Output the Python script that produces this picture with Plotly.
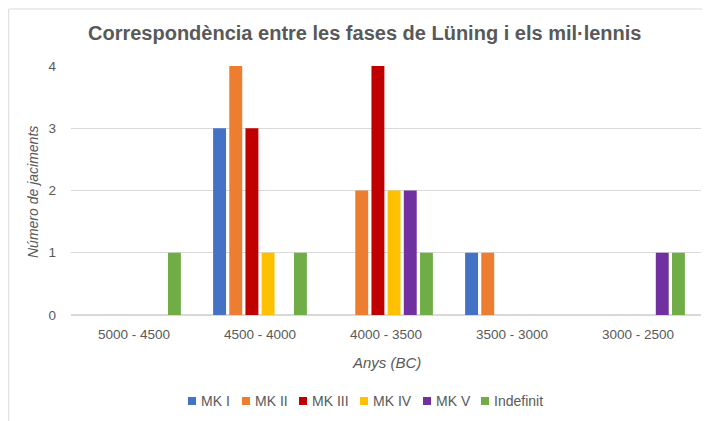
import plotly.graph_objects as go

categories = ["5000 - 4500", "4500 - 4000", "4000 - 3500", "3500 - 3000", "3000 - 2500"]
series_names = ["MK I", "MK II", "MK III", "MK IV", "MK V", "Indefinit"]
mk1 = [0, 3, 0, 1, 0]
mk2 = [0, 4, 2, 1, 0]
mk3 = [0, 3, 4, 0, 0]
mk4 = [0, 1, 2, 0, 0]
mk5 = [0, 0, 2, 0, 1]
indefinit = [1, 1, 1, 0, 1]
y_ticks = [0, 1, 2, 3, 4]

values = [mk1, mk2, mk3, mk4, mk5, indefinit]
colors = ["#4472C4", "#ED7D31", "#C00000", "#FFC000", "#7030A0", "#70AD47"]

# page offset (browser body margin)
OFF = 8
W, H = 710 - OFF, 421 - OFF

def px(x):
    return (x - OFF) / W

def py(y):
    return (H - (y - OFF)) / H

fig = go.Figure()
for name, vals, col in zip(series_names, values, colors):
    fig.add_trace(go.Bar(x=categories, y=vals, name=name, showlegend=False,
                         marker=dict(color=col, line=dict(width=0))))

grey = "#595959"
font = "Liberation Sans, Arial, sans-serif"

# custom legend (Excel-like: small square, text right next to it)
legend_x = [188, 242, 299, 360, 423, 481]
legend_y = 401
shapes = []
annotations = []
for name, col, lx in zip(series_names, colors, legend_x):
    shapes.append(dict(type="rect", xref="paper", yref="paper",
                       x0=px(lx), x1=px(lx + 8), y0=py(legend_y + 4), y1=py(legend_y - 4),
                       fillcolor=col, line=dict(width=0)))
    annotations.append(dict(text=name, x=px(lx + 11), y=py(legend_y), xref="paper", yref="paper",
                            showarrow=False, xanchor="left", yanchor="middle",
                            font=dict(size=14, color=grey, family=font)))

shapes += [
    dict(type="line", xref="paper", yref="paper", x0=0.001, x1=1, y0=py(9), y1=py(9),
         line=dict(color="#D9D9D9", width=1)),
    dict(type="line", xref="paper", yref="paper", x0=0.001, x1=0.001, y0=0, y1=py(9),
         line=dict(color="#D9D9D9", width=1)),
]

annotations += [
    dict(text="<b>Correspondència entre les fases de Lüning i els mil·lennis</b>",
         x=px(365), y=py(33), xref="paper", yref="paper", showarrow=False,
         xanchor="center", yanchor="middle", font=dict(size=20, color=grey, family=font)),
    dict(text="<i>Anys (BC)</i>", x=px(386), y=py(362), xref="paper", yref="paper",
         showarrow=False, xanchor="center", yanchor="middle", font=dict(size=15, color=grey, family=font)),
    dict(text="<i>Número de jaciments</i>", x=px(33), y=py(192), xref="paper", yref="paper",
         showarrow=False, xanchor="center", yanchor="middle", textangle=-90,
         font=dict(size=14, color=grey, family=font)),
]

fig.update_layout(
    width=W, height=H,
    margin=dict(l=0, r=0, t=0, b=0),
    paper_bgcolor="white", plot_bgcolor="white",
    barmode="group", bargap=0.23, bargroupgap=0.2,
    font=dict(family=font, color=grey, size=13),
    xaxis=dict(domain=[px(71), px(701)], showgrid=False, showline=False, ticks="",
               ticklabelstandoff=9, tickfont=dict(size=13.5, color=grey), automargin=False),
    yaxis=dict(domain=[py(315), py(66)], range=[0, 4], tickvals=y_ticks,
               gridcolor="#D9D9D9", gridwidth=1, zeroline=True, zerolinecolor="#D9D9D9",
               showline=False, ticks="", ticklabelstandoff=14,
               tickfont=dict(size=13.5, color=grey), automargin=False),
    showlegend=False,
    annotations=annotations,
    shapes=shapes,
)

fig.write_html("out.html")
